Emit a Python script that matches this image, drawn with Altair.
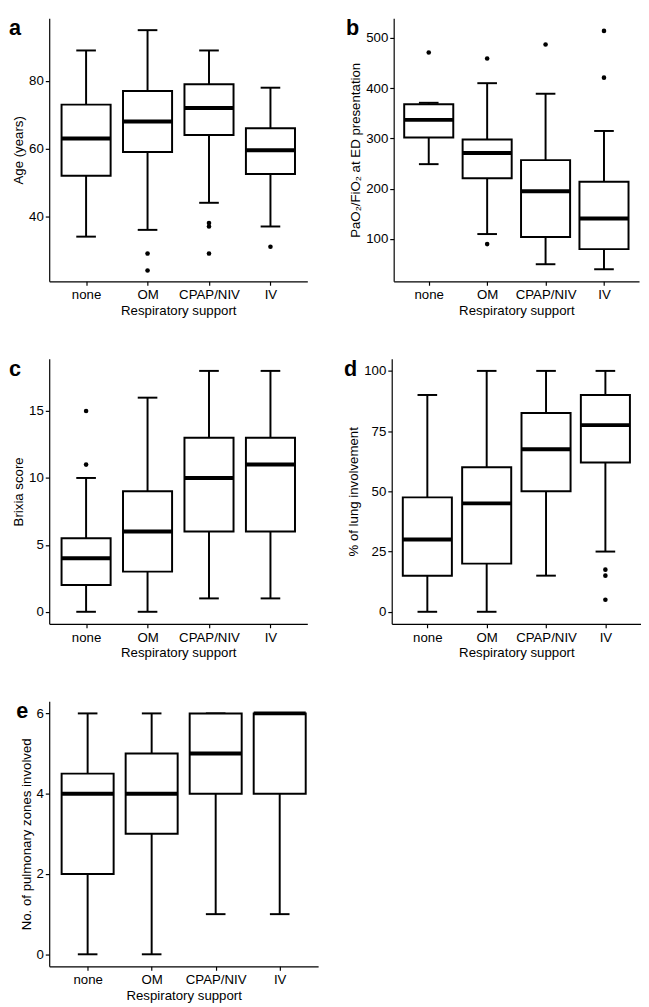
import altair as alt
import pandas as pd

CATS = ["none", "OM", "CPAP/NIV", "IV"]
XTITLE = "Respiratory support"

# Panel a: Age (years)
a_lower = [34, 36, 44, 37]
a_q1 = [52, 59, 64, 52.5]
a_med = [63, 68, 72, 59.5]
a_q3 = [73, 77, 79, 66]
a_upper = [89, 95, 89, 78]
a_out_cat = ["OM", "OM", "CPAP/NIV", "CPAP/NIV", "CPAP/NIV", "IV"]
a_out_val = [29, 24, 38, 37, 29, 31]

# Panel b: PaO2/FiO2 at ED presentation
b_lower = [249, 110, 50, 40]
b_q1 = [302, 221, 104, 80]
b_med = [337, 271, 195, 141]
b_q3 = [368, 298, 257, 214]
b_upper = [371, 410, 389, 315]
b_out_cat = ["none", "OM", "OM", "CPAP/NIV", "IV", "IV"]
b_out_val = [471, 459, 90, 487, 514, 421]

# Panel c: Brixia score
c_lower = [0, 0, 1, 1]
c_q1 = [2, 3, 6, 6]
c_med = [4, 6, 10, 11]
c_q3 = [5.5, 9, 13, 13]
c_upper = [10, 16, 18, 18]
c_out_cat = ["none", "none"]
c_out_val = [11, 15]

# Panel d: % of lung involvement
d_lower = [0, 0, 15, 25]
d_q1 = [15, 20, 50, 62]
d_med = [30, 45, 67.5, 77.5]
d_q3 = [47.5, 60, 82.5, 90]
d_upper = [90, 100, 100, 100]
d_out_cat = ["IV", "IV", "IV"]
d_out_val = [17.5, 15, 5]

# Panel e: No. of pulmonary zones involved
e_lower = [0, 0, 1, 1]
e_q1 = [2, 3, 4, 4]
e_med = [4, 4, 5, 6]
e_q3 = [4.5, 5, 6, 6]
e_upper = [6, 6, 6, 6]
e_out_cat = []
e_out_val = []

FONT = "Liberation Sans"
FS = 13.5


def panel(letter, ytitle, lower, q1, med, q3, upper, out_cat, out_val,
          domain, ticks, width, height, boxw):
    df = pd.DataFrame({"cat": CATS, "lower": lower, "q1": q1, "median": med,
                       "q3": q3, "upper": upper})
    x = alt.X("cat:N", sort=CATS, title=XTITLE,
              scale=alt.Scale(type="point", padding=0.6),
              axis=alt.Axis(labelAngle=0))
    yscale = alt.Scale(domain=domain, nice=False, zero=False)
    yaxis = alt.Axis(values=ticks, title=ytitle)
    base = alt.Chart(df)
    whisker = base.mark_rule(color="black", strokeWidth=2).encode(
        x=x, y=alt.Y("lower:Q", scale=yscale, axis=yaxis), y2="upper:Q")
    box = base.mark_bar(fill="white", stroke="black", strokeWidth=2,
                        size=boxw).encode(
        x=x, y=alt.Y("q1:Q", scale=yscale, axis=yaxis), y2="q3:Q")
    median = base.mark_tick(color="black", thickness=4, size=boxw,
                            opacity=1).encode(
        x=x, y=alt.Y("median:Q", scale=yscale, axis=yaxis))
    cap_lo = base.mark_tick(color="black", thickness=2, size=20,
                            opacity=1).encode(
        x=x, y=alt.Y("lower:Q", scale=yscale, axis=yaxis))
    cap_hi = base.mark_tick(color="black", thickness=2, size=20,
                            opacity=1).encode(
        x=x, y=alt.Y("upper:Q", scale=yscale, axis=yaxis))
    layers = [whisker, cap_lo, cap_hi, box, median]
    if out_cat:
        odf = pd.DataFrame({"cat": out_cat, "val": out_val})
        pts = alt.Chart(odf).mark_circle(color="black", size=22,
                                         opacity=1).encode(
            x=x, y=alt.Y("val:Q", scale=yscale, axis=yaxis))
        layers.append(pts)
    return alt.layer(*layers).properties(
        width=width, height=height,
        title=alt.TitleParams(letter, anchor="start", fontSize=22,
                              fontWeight="bold", font=FONT, color="black",
                              offset=-22, dx=-3),
    )


pa = panel("a", "Age (years)", a_lower, a_q1, a_med, a_q3, a_upper,
           a_out_cat, a_out_val, [20.8, 98.5], [40, 60, 80], 263, 268, 50)
pb = panel("b", "PaO₂/FiO₂ at ED presentation", b_lower, b_q1, b_med, b_q3,
           b_upper, b_out_cat, b_out_val, [16, 539], [100, 200, 300, 400, 500],
           250, 268, 50)
pc = panel("c", "Brixia score", c_lower, c_q1, c_med, c_q3, c_upper,
           c_out_cat, c_out_val, [-0.9, 18.9], [0, 5, 10, 15], 263, 270, 50)
pd_ = panel("d", "% of lung involvement", d_lower, d_q1, d_med, d_q3, d_upper,
            d_out_cat, d_out_val, [-5, 105], [0, 25, 50, 75, 100], 254, 270, 50)
pe = panel("e", "No. of pulmonary zones involved", e_lower, e_q1, e_med, e_q3,
           e_upper, e_out_cat, e_out_val, [-0.3, 6.3], [0, 2, 4, 6], 274, 270, 53)

row1 = alt.hconcat(pa, pb, spacing=39)
row2 = alt.hconcat(pc, pd_, spacing=37)
lower_rows = alt.vconcat(row2, pe, spacing=42)
chart = alt.vconcat(row1, lower_rows, spacing=42).properties(
    padding=0
).configure_view(stroke=None).configure_axis(
    grid=False, domainColor="black", domainWidth=1.2, tickColor="black",
    tickWidth=1.2, tickSize=4, labelColor="black", labelFont=FONT,
    labelFontSize=FS, labelPadding=2, titleFont=FONT, titleFontSize=FS,
    titleFontWeight="normal", titleColor="black", titlePadding=3,
).configure_axisX(labelPadding=3, titlePadding=2)

chart.save("out.html", embed_options={"renderer": "svg", "actions": False})
